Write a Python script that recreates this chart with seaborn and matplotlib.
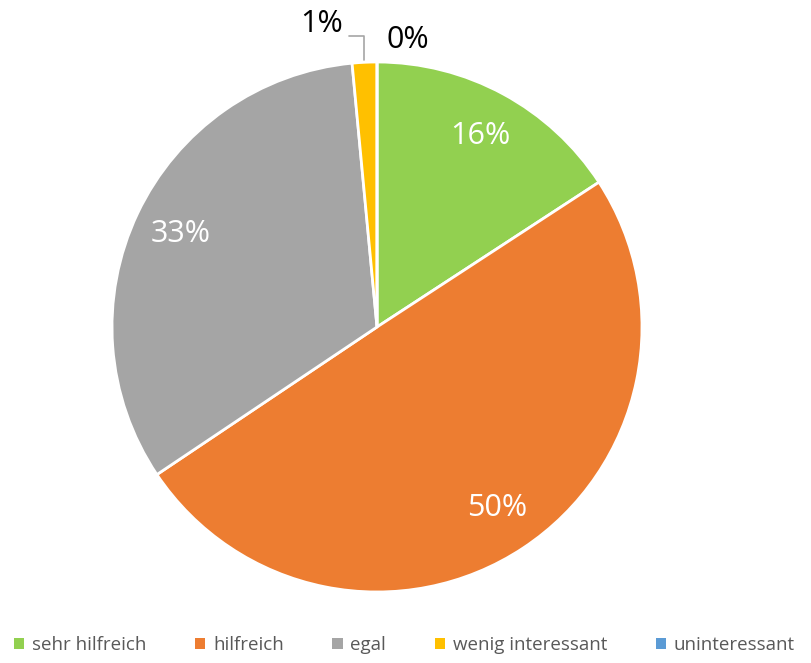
import matplotlib
matplotlib.use("Agg")
import matplotlib.pyplot as plt
from matplotlib.patches import Patch
import numpy as np
import seaborn as sns

# Data
CATEGORIES = ["sehr hilfreich", "hilfreich", "egal", "wenig interessant", "uninteressant"]
SHARES = [15.8, 49.8, 32.9, 1.5, 0.0]
LABELS = ["16%", "50%", "33%", "1%", "0%"]
COLORS = ["#92D050", "#ED7D31", "#A5A5A5", "#FFC000", "#5B9BD5"]

# Layout (pixel units, 1 unit = 1 px)
W, H = 812, 663
CENTER = (377, H - 327)
RADIUS = 265

sns.set_style("white")
plt.rcParams["font.family"] = ["Open Sans", "DejaVu Sans"]

fig = plt.figure(figsize=(W / 100, H / 100), dpi=100)
ax = fig.add_axes([0, 0, 1, 1])

wedges, _ = ax.pie(
    SHARES,
    colors=COLORS,
    startangle=90,
    counterclock=False,
    center=CENTER,
    radius=RADIUS,
    wedgeprops={"edgecolor": "white", "linewidth": 2},
    normalize=True,
)

# inside labels for the big slices
for wedge, label in zip(wedges[:3], LABELS[:3]):
    mid = np.deg2rad((wedge.theta1 + wedge.theta2) / 2)
    r = 0.82 * RADIUS
    ax.text(CENTER[0] + r * np.cos(mid), CENTER[1] + r * np.sin(mid), label,
            ha="center", va="center", color="white", fontsize=22)

# outside labels for the tiny slices
ax.text(322, H - 24, LABELS[3], ha="center", va="center", color="black", fontsize=22)
ax.text(408, H - 40, LABELS[4], ha="center", va="center", color="black", fontsize=22)
yellow_mid = np.deg2rad((wedges[3].theta1 + wedges[3].theta2) / 2)
tip = (CENTER[0] + (RADIUS + 2) * np.cos(yellow_mid), CENTER[1] + (RADIUS + 2) * np.sin(yellow_mid))
ax.plot([349, tip[0], tip[0]], [H - 36, H - 36, tip[1]], color="#A5A5A5", linewidth=1.2)

handles = [Patch(facecolor=c, edgecolor="none") for c in COLORS]
ax.legend(handles, CATEGORIES, loc="lower center", bbox_to_anchor=(0.498, -0.012),
          ncol=5, frameon=False, fontsize=13.5, labelcolor="#595959",
          handlelength=0.55, handleheight=0.55, handletextpad=0.4, columnspacing=2.6)

ax.set_xlim(0, W)
ax.set_ylim(0, H)
ax.set_aspect("equal")
ax.axis("off")

fig.savefig("out.png", dpi=100)
